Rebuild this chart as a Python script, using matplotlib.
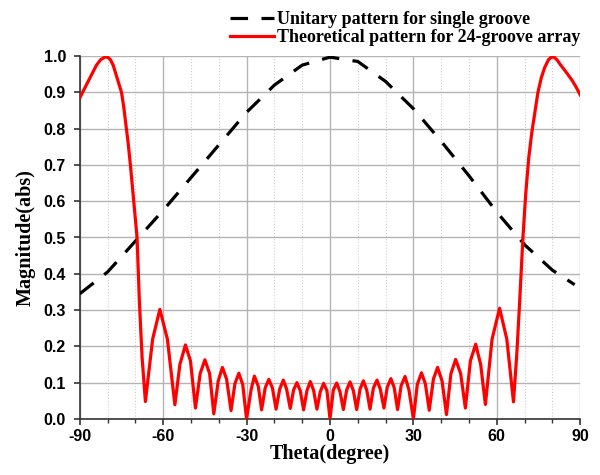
import numpy as np
import matplotlib
matplotlib.use('Agg')
from matplotlib import pyplot as plt
from matplotlib.ticker import MultipleLocator, FormatStrFormatter

plt.rcParams['axes.unicode_minus'] = False

# unitary pattern (single groove)
unitTheta = [-90, -80, -70, -60, -50, -40, -30, -20, -10, 0, 10, 20, 30, 40, 50, 60, 70, 80, 88]
unitMag = [0.345, 0.405, 0.49, 0.575, 0.665, 0.755, 0.845, 0.92, 0.975, 0.997,
           0.985, 0.93, 0.855, 0.765, 0.67, 0.57, 0.48, 0.41, 0.37]

# 24-groove array pattern, peaks / minima / shoulders
arrayTheta = [-90, -88, -86, -84, -82.5, -81, -80, -79, -78, -77, -76, -75, -74.2, -73.4,
              -72.6, -71.8, -70.6, -69.4, -68.6, -67.6, -66.4, -63.8, -61.2, -58.5, -55.8,
              -54.0, -52.0, -50.2, -48.4,
              -46.7, -45.0, -43.3, -41.8, -40.2, -38.7, -37.2, -35.6, -34.2, -32.8, -31.4,
              -30.0, -28.4, -27.2, -25.8, -24.6, -23.3, -22.0, -20.7, -19.4, -18.1, -16.8,
              -15.6, -14.3, -13.1, -11.9, -10.7, -9.5, -8.3, -7.1, -5.9, -4.7, -3.5, -2.3,
              -1.1, 0,
              1.2, 2.4, 3.6, 4.8, 6.0, 7.2, 8.4, 9.6, 10.8, 12.0, 13.2, 14.4, 15.6, 16.9,
              18.1, 19.4, 20.6, 21.9, 23.1, 24.3, 25.6, 27.0, 28.4, 30.0, 31.4, 32.9, 34.3,
              35.7, 37.2, 38.7, 40.3, 41.9, 43.5, 45.2, 47.0, 48.7, 50.5, 52.4, 54.2, 55.9,
              58.3, 61.0, 63.6, 66.0, 67.2, 68.2, 69.4, 70.4, 71.5, 72.6, 73.8, 74.8, 76.0,
              77.2, 78.6, 79.6, 80.6, 81.6, 83.0, 85.0, 87.0, 88.5, 90.0]
arrayMag = [0.885, 0.915, 0.945, 0.975, 0.99, 0.997, 0.997, 0.99, 0.975, 0.95, 0.925, 0.90,
            0.86, 0.81, 0.76, 0.70, 0.60, 0.50, 0.33, 0.17, 0.048, 0.22, 0.302, 0.22, 0.039,
            0.15, 0.204, 0.16, 0.030,
            0.125, 0.163, 0.125, 0.014, 0.105, 0.142, 0.11, 0.023, 0.097, 0.126, 0.095,
            0.0, 0.08, 0.118, 0.09, 0.025, 0.086, 0.109, 0.085, 0.027, 0.082, 0.107,
            0.082, 0.029, 0.08, 0.10, 0.078, 0.025, 0.078, 0.103, 0.079, 0.027, 0.075, 0.098,
            0.078, 0.0,
            0.08, 0.099, 0.075, 0.026, 0.08, 0.102, 0.078, 0.026, 0.082, 0.105, 0.08, 0.027, 0.085, 0.107,
            0.082, 0.030, 0.088, 0.111, 0.086, 0.026, 0.092, 0.117, 0.08, 0.0, 0.095, 0.127, 0.097,
            0.024, 0.11, 0.142, 0.105, 0.012, 0.125, 0.164, 0.125, 0.030, 0.16, 0.206, 0.15, 0.040,
            0.22, 0.305, 0.22, 0.047, 0.18, 0.32, 0.50, 0.62, 0.72, 0.79, 0.85, 0.90, 0.94,
            0.968, 0.99, 0.997, 0.997, 0.99, 0.975, 0.955, 0.934, 0.915, 0.893]

xTicks = [-90, -60, -30, 0, 30, 60, 90]

serifBold = {'family': 'Liberation Serif', 'weight': 'bold'}

fig = plt.figure(figsize=(6, 4.75), dpi=100)
ax = fig.add_axes([0.133, 0.118, 0.834, 0.764])

ax.plot(unitTheta, unitMag, color='black', linewidth=2.3, dashes=(5.5, 4.2),
        dash_capstyle='butt', label='Unitary pattern for single groove', zorder=3)
ax.plot(arrayTheta, arrayMag, color='red', linewidth=2.3, solid_joinstyle='round',
        label='Theoretical pattern for 24-groove array', zorder=4)

ax.set_xlim(-90, 90)
ax.set_ylim(0, 1.0)
ax.set_xticks(xTicks)
ax.xaxis.set_minor_locator(MultipleLocator(10))
ax.yaxis.set_major_locator(MultipleLocator(0.1))
ax.yaxis.set_major_formatter(FormatStrFormatter('%.1f'))

ax.grid(which='major', color='#b4b4b4', linewidth=1.0, linestyle='-')
ax.grid(which='minor', axis='x', color='#cfcfcf', linewidth=0.8, linestyle=':')
ax.set_axisbelow(True)

for side in ['top', 'right']:
    ax.spines[side].set_visible(False)
for side in ['left', 'bottom']:
    ax.spines[side].set_linewidth(1.2)
    ax.spines[side].set_color('#333333')

ax.tick_params(which='major', direction='out', length=4, width=1.2, colors='#333333')
ax.tick_params(which='minor', direction='out', length=3, width=1.0, colors='#333333')
ax.tick_params(axis='y', pad=6)
for lbl in ax.get_xticklabels() + ax.get_yticklabels():
    lbl.set_fontfamily('Liberation Sans')
    lbl.set_fontweight('bold')
    lbl.set_fontsize(11.5)
    lbl.set_color('black')

ax.set_xlabel('Theta(degree)', fontdict=serifBold, fontsize=14.5, labelpad=0)
ax.set_ylabel('Magnitude(abs)', fontdict=serifBold, fontsize=14.5, labelpad=6)

fig.legend(loc='upper right', bbox_to_anchor=(0.995, 1.01), frameon=False,
           prop={'family': 'Liberation Serif', 'weight': 'bold', 'size': 13},
           handlelength=2.4, handletextpad=0.2, labelspacing=0.05)

fig.savefig('out.png', dpi=100)
